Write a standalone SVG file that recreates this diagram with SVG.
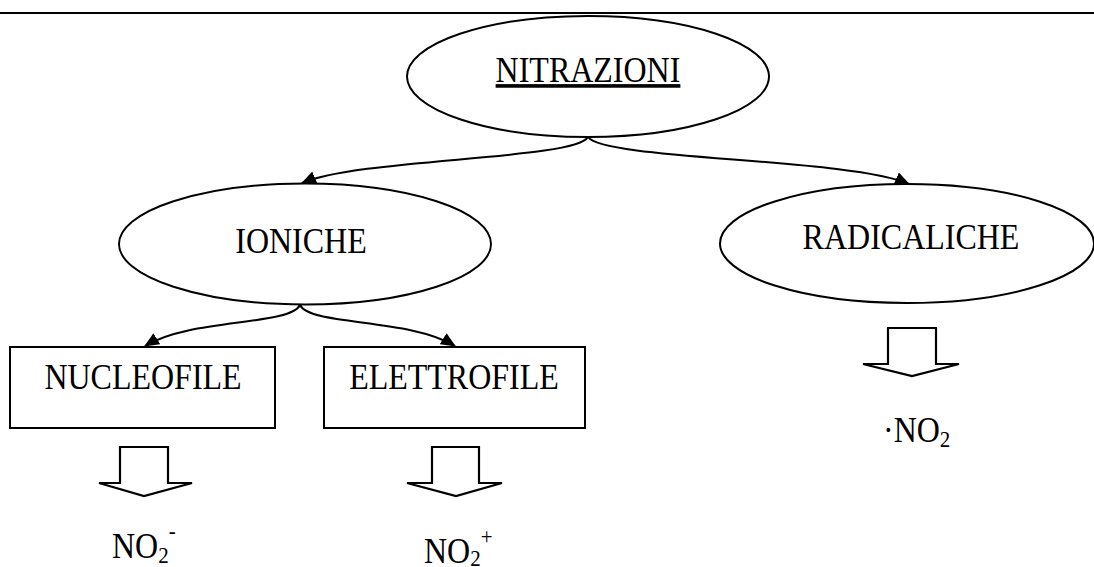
<svg xmlns="http://www.w3.org/2000/svg" width="1094" height="567" viewBox="0 0 1094 567">
<defs>
<style>
.shape{fill:#fff;stroke:#000;stroke-width:2}
.conn{fill:none;stroke:#000;stroke-width:2}
.blk{fill:#fff;stroke:#000;stroke-width:2.2;stroke-linejoin:miter}
text{font-family:"Liberation Serif","Times New Roman",serif;font-size:32px;fill:#000}
.mid{text-anchor:middle}
</style>
<marker id="ah" viewBox="0 0 14 12" refX="13" refY="6" markerWidth="15" markerHeight="13" markerUnits="userSpaceOnUse" orient="auto">
<path d="M0,0 L14,6 L0,12 Z" fill="#000"/>
</marker>
</defs>
<rect width="1094" height="567" fill="#fff"/>
<line x1="0" y1="13" x2="1094" y2="13" stroke="#000" stroke-width="2"/>

<g id="connectors">
<path class="conn" d="M588,137 C575,160 360,158 302,183" marker-end="url(#ah)"/>
<path class="conn" d="M588,137 C603,160 850,158 909,184" marker-end="url(#ah)"/>
<path class="conn" d="M300,305 C290,326 190,318 145,346" marker-end="url(#ah)"/>
<path class="conn" d="M300,305 C310,326 410,318 455,346" marker-end="url(#ah)"/>
</g>

<g id="nitrazioni">
<ellipse class="shape" cx="588" cy="76.5" rx="181" ry="60.5"/>
<text class="mid" transform="translate(588,82) scale(1,1.13)" text-decoration="underline">NITRAZIONI</text>
</g>

<g id="ioniche">
<ellipse class="shape" cx="305" cy="244" rx="186" ry="60.5"/>
<text class="mid" transform="translate(301,253) scale(1,1.13)">IONICHE</text>
</g>

<g id="radicaliche">
<ellipse class="shape" cx="907" cy="243.5" rx="187" ry="59.5"/>
<text class="mid" transform="translate(911,249) scale(1,1.13)">RADICALICHE</text>
</g>

<g id="nucleofile">
<rect class="shape" x="10" y="347" width="265" height="81"/>
<text class="mid" transform="translate(143,389) scale(1,1.13)">NUCLEOFILE</text>
</g>

<g id="elettrofile">
<rect class="shape" x="324" y="347" width="261" height="81"/>
<text class="mid" transform="translate(454,389) scale(1,1.13)">ELETTROFILE</text>
</g>

<g id="arrow-nucleofile">
<path class="blk" d="M120,447 H168 V483 H192 L144,496 L99,483 H120 Z"/>
</g>
<g id="arrow-elettrofile">
<path class="blk" d="M432,447 H479 V483 H502 L456,496 L407,483 H432 Z"/>
</g>
<g id="arrow-radicaliche">
<path class="blk" d="M888,328 H936 V364 H959 L912,376 L863,364 H888 Z"/>
</g>

<g id="no2-minus">
<text transform="translate(112,558) scale(1,1.13)">NO<tspan font-size="21" dy="4">2</tspan><tspan font-size="21" dy="-21">-</tspan></text>
</g>
<g id="no2-plus">
<text transform="translate(424,563) scale(1,1.13)">NO<tspan font-size="21" dy="3">2</tspan><tspan font-size="21" dy="-20">+</tspan></text>
</g>
<g id="no2-radical">
<text transform="translate(883,442) scale(1,1.13)">·NO<tspan font-size="21" dy="4">2</tspan></text>
</g>
</svg>
